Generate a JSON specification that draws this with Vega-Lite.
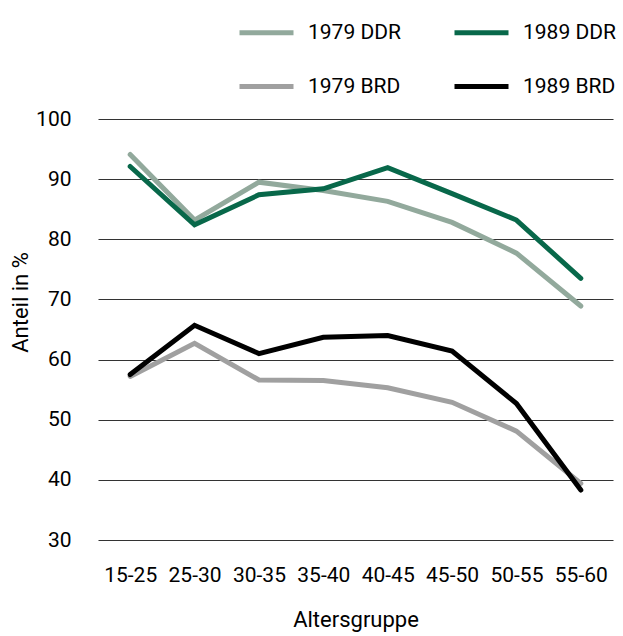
{
  "$schema": "https://vega.github.io/schema/vega-lite/v6.json",
  "autosize": {"type": "none"},
  "padding": {"left": 98, "top": 119, "right": 10, "bottom": 95},
  "width": 515,
  "height": 421,
  "background": "white",
  "config": {
    "font": "Roboto",
    "view": {"stroke": null},
    "axis": {"labelColor": "#000", "titleColor": "#000", "labelFont": "Roboto", "titleFont": "Roboto", "titleFontWeight": "normal"},
    "legend": {"labelFont": "Roboto", "labelColor": "#000"}
  },
  "data": {
    "values": [
      {"g": "15-25", "s": "1979 DDR", "v": 94.1},
      {"g": "25-30", "s": "1979 DDR", "v": 83.2},
      {"g": "30-35", "s": "1979 DDR", "v": 89.5},
      {"g": "35-40", "s": "1979 DDR", "v": 88.1},
      {"g": "40-45", "s": "1979 DDR", "v": 86.3},
      {"g": "45-50", "s": "1979 DDR", "v": 82.8},
      {"g": "50-55", "s": "1979 DDR", "v": 77.7},
      {"g": "55-60", "s": "1979 DDR", "v": 68.9},
      {"g": "15-25", "s": "1979 BRD", "v": 57.2},
      {"g": "25-30", "s": "1979 BRD", "v": 62.7},
      {"g": "30-35", "s": "1979 BRD", "v": 56.6},
      {"g": "35-40", "s": "1979 BRD", "v": 56.5},
      {"g": "40-45", "s": "1979 BRD", "v": 55.3},
      {"g": "45-50", "s": "1979 BRD", "v": 52.9},
      {"g": "50-55", "s": "1979 BRD", "v": 48.1},
      {"g": "55-60", "s": "1979 BRD", "v": 39.4},
      {"g": "15-25", "s": "1989 DDR", "v": 92.1},
      {"g": "25-30", "s": "1989 DDR", "v": 82.4},
      {"g": "30-35", "s": "1989 DDR", "v": 87.4},
      {"g": "35-40", "s": "1989 DDR", "v": 88.4},
      {"g": "40-45", "s": "1989 DDR", "v": 91.9},
      {"g": "45-50", "s": "1989 DDR", "v": 87.6},
      {"g": "50-55", "s": "1989 DDR", "v": 83.2},
      {"g": "55-60", "s": "1989 DDR", "v": 73.5},
      {"g": "15-25", "s": "1989 BRD", "v": 57.5},
      {"g": "25-30", "s": "1989 BRD", "v": 65.7},
      {"g": "30-35", "s": "1989 BRD", "v": 61.0},
      {"g": "35-40", "s": "1989 BRD", "v": 63.7},
      {"g": "40-45", "s": "1989 BRD", "v": 64.0},
      {"g": "45-50", "s": "1989 BRD", "v": 61.4},
      {"g": "50-55", "s": "1989 BRD", "v": 52.7},
      {"g": "55-60", "s": "1989 BRD", "v": 38.3}
    ]
  },
  "mark": {"type": "line", "strokeWidth": 5, "strokeCap": "round"},
  "encoding": {
    "x": {
      "field": "g", "type": "ordinal",
      "scale": {"type": "point", "padding": 0.5},
      "axis": {"title": "Altersgruppe", "labelAngle": 0, "labelFontSize": 21, "titleFontSize": 22, "domain": false, "ticks": false, "labelPadding": 24, "titlePadding": 24, "grid": false}
    },
    "y": {
      "field": "v", "type": "quantitative",
      "scale": {"domain": [30, 100], "nice": false, "zero": false},
      "axis": {"title": "Anteil in %", "values": [30, 40, 50, 60, 70, 80, 90, 100], "labelFontSize": 21, "titleFontSize": 22, "domain": false, "ticks": false, "labelPadding": 27, "titlePadding": 3, "grid": true, "gridColor": "#333", "gridWidth": 1.2, "gridOpacity": 1, "titleY": 183}
    },
    "color": {
      "field": "s", "type": "nominal",
      "scale": {"domain": ["1979 DDR", "1989 DDR", "1979 BRD", "1989 BRD"], "range": ["#92a99c", "#08684a", "#a0a0a0", "#000000"]},
      "legend": {"title": null, "orient": "none", "direction": "horizontal", "legendX": 139, "legendY": -116, "columns": 2, "symbolType": "stroke", "symbolSize": 2916, "symbolStrokeWidth": 5, "labelFontSize": 21, "labelOffset": 12, "columnPadding": 43, "rowPadding": 14, "padding": 0}
    }
  }
}
